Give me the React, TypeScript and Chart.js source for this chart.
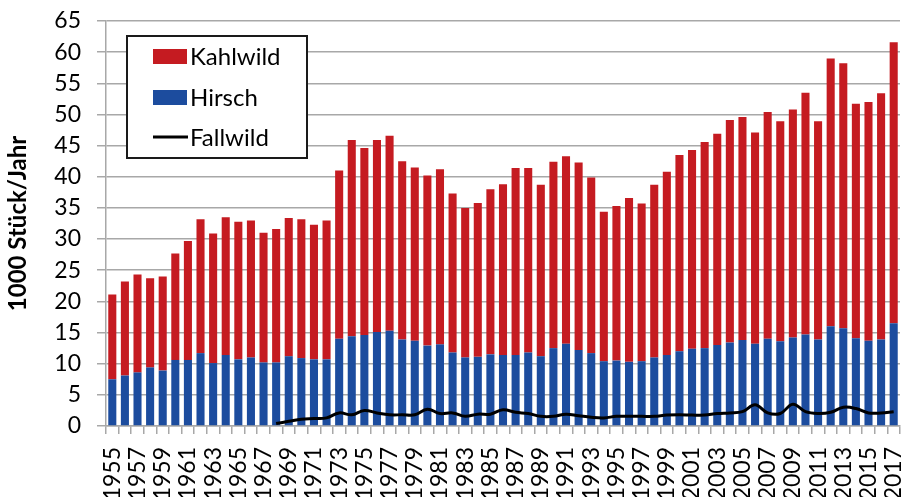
import React, { useEffect, useRef } from "react";
import { Chart, registerables } from "chart.js";

Chart.register(...registerables);

const years: string[] = Array.from({ length: 63 }, (_, i) => String(1955 + i));

const hirsch: number[] = [
  7.5, 8.1, 8.6, 9.4, 8.9, 10.6, 10.6, 11.7, 10.1, 11.4,
  10.7, 11.0, 10.2, 10.2, 11.2, 10.9, 10.7, 10.7, 14.0, 14.4,
  14.6, 15.1, 15.3, 13.9, 13.7, 12.9, 13.1, 11.8, 11.0, 11.1,
  11.5, 11.4, 11.4, 11.8, 11.2, 12.5, 13.2, 12.2, 11.7, 10.4,
  10.5, 10.3, 10.4, 11.0, 11.4, 12.0, 12.4, 12.5, 13.0, 13.4,
  13.8, 13.2, 14.0, 13.6, 14.2, 14.7, 13.9, 16.0, 15.7, 14.1,
  13.7, 13.9, 16.5,
];

const kahlwild: number[] = [
  13.6, 15.1, 15.7, 14.3, 15.1, 17.1, 19.1, 21.5, 20.8, 22.1,
  22.1, 22.0, 20.8, 21.4, 22.2, 22.3, 21.6, 22.3, 27.0, 31.5,
  30.0, 30.8, 31.3, 28.6, 27.8, 27.3, 28.1, 25.5, 24.0, 24.7,
  26.5, 27.4, 30.0, 29.6, 27.5, 29.9, 30.1, 30.1, 28.2, 24.0,
  24.8, 26.3, 25.3, 27.7, 29.4, 31.5, 31.9, 33.1, 33.9, 35.7,
  35.8, 33.9, 36.4, 35.3, 36.6, 38.8, 35.0, 43.0, 42.5, 37.6,
  38.3, 39.5, 45.1,
];

const fallwild: (number | null)[] = [
  null, null, null, null, null, null, null, null, null, null,
  null, null, null,
  0.4, 0.75, 1.1, 1.2, 1.3, 2.1, 1.8, 2.5, 2.1, 1.8,
  1.8, 1.8, 2.7, 2.0, 2.1, 1.55, 1.9, 1.9, 2.6, 2.2,
  2.0, 1.55, 1.55, 1.9, 1.65, 1.4, 1.3, 1.55, 1.55, 1.55,
  1.55, 1.75, 1.8, 1.75, 1.75, 2.0, 2.1, 2.3, 3.4, 2.1,
  2.0, 3.5, 2.3, 2.0, 2.2, 3.0, 2.8, 2.1, 2.1, 2.3,
];

const yTicks: number[] = [0, 5, 10, 15, 20, 25, 30, 35, 40, 45, 50, 55, 60, 65];

const RED = "#C51B21";
const BLUE = "#1C4C9E";
const GRID = "#A8A8A8";
const FONT = "Lato, 'Open Sans', sans-serif";

const legendPlugin = {
  id: "boxLegend",
  afterDraw(chart: any) {
    const ctx = chart.ctx as CanvasRenderingContext2D;
    const x0 = 127, y0 = 36, w = 180, h = 122;
    ctx.save();
    ctx.fillStyle = "#ffffff";
    ctx.fillRect(x0, y0, w, h);
    ctx.strokeStyle = "#1a1a1a";
    ctx.lineWidth = 2;
    ctx.strokeRect(x0, y0, w, h);
    const ds = chart.data.datasets;
    const items = [
      { label: ds[1].label, kind: "box", color: ds[1].backgroundColor, y: 56.5 },
      { label: ds[0].label, kind: "box", color: ds[0].backgroundColor, y: 97.5 },
      { label: ds[2].label, kind: "line", color: ds[2].borderColor, y: 137 },
    ];
    ctx.font = `24px ${FONT}`;
    ctx.textBaseline = "alphabetic";
    ctx.textAlign = "left";
    for (const it of items) {
      if (it.kind === "box") {
        ctx.fillStyle = it.color;
        ctx.fillRect(153, it.y - 7.5, 34, 15);
      } else {
        ctx.strokeStyle = it.color;
        ctx.lineWidth = 3;
        ctx.beginPath();
        ctx.moveTo(153, it.y);
        ctx.lineTo(188, it.y);
        ctx.stroke();
      }
      ctx.fillStyle = "#000000";
      ctx.fillText(it.label, 190, it.y + 8.5);
    }
    ctx.restore();
  },
};

export default function App() {
  const ref = useRef<HTMLCanvasElement | null>(null);

  useEffect(() => {
    if (!ref.current) return;
    const chart = new Chart(ref.current, {
      type: "bar",
      data: {
        labels: years,
        datasets: [
          {
            type: "bar",
            label: "Hirsch",
            data: hirsch,
            backgroundColor: BLUE,
            stack: "s",
            order: 1,
            barPercentage: 0.64,
            categoryPercentage: 1,
          } as any,
          {
            type: "bar",
            label: "Kahlwild",
            data: kahlwild,
            backgroundColor: RED,
            stack: "s",
            order: 2,
            barPercentage: 0.64,
            categoryPercentage: 1,
          } as any,
          {
            type: "line",
            label: "Fallwild",
            data: fallwild,
            borderColor: "#000000",
            backgroundColor: "#000000",
            borderWidth: 3,
            pointRadius: 0,
            tension: 0.4,
            stack: "f",
            order: 0,
          } as any,
        ],
      },
      options: {
        animation: false,
        responsive: true,
        maintainAspectRatio: false,
        layout: { padding: { top: 21, right: 2, left: 0, bottom: 0 } },
        plugins: {
          legend: { display: false },
          tooltip: { enabled: false },
        },
        scales: {
          x: {
            stacked: true,
            offset: true,
            grid: {
              display: true,
              drawOnChartArea: false,
              drawTicks: true,
              tickLength: 8,
              color: GRID,
              lineWidth: 1.5,
              offset: true,
            },
            border: { display: true, color: GRID, width: 1.5 },
            ticks: {
              autoSkip: false,
              minRotation: 90,
              maxRotation: 90,
              padding: 13,
              color: "#000000",
              font: { family: FONT, size: 23 },
              callback: (_v: any, i: number) => (i % 2 === 0 ? years[i] : ""),
            },
            afterFit: (s: any) => {
              s.height = 71;
              s.paddingLeft = 0;
              s.paddingRight = 0;
            },
          },
          y: {
            stacked: true,
            min: 0,
            max: 65,
            afterBuildTicks: (s: any) => {
              s.ticks = yTicks.map((v) => ({ value: v }));
            },
            grid: {
              color: GRID,
              lineWidth: 1.5,
              drawTicks: true,
              tickLength: 9,
            },
            border: { display: true, color: GRID, width: 1.5 },
            ticks: {
              autoSkip: false,
              color: "#000000",
              padding: 16,
              font: { family: FONT, size: 23 },
            },
            title: {
              display: true,
              text: "1000 Stück/Jahr",
              color: "#000000",
              font: { family: FONT, size: 24, weight: "bold" },
              padding: { top: 4, bottom: 0 },
            },
            afterFit: (s: any) => {
              s.width = 106;
              s.paddingTop = 0;
              s.paddingBottom = 0;
            },
          },
        },
      },
      plugins: [legendPlugin],
    });
    return () => chart.destroy();
  }, []);

  return (
    <div style={{ position: "fixed", left: 0, top: 0, width: 902, height: 497, background: "#fff" }}>
      <canvas ref={ref} />
    </div>
  );
}
